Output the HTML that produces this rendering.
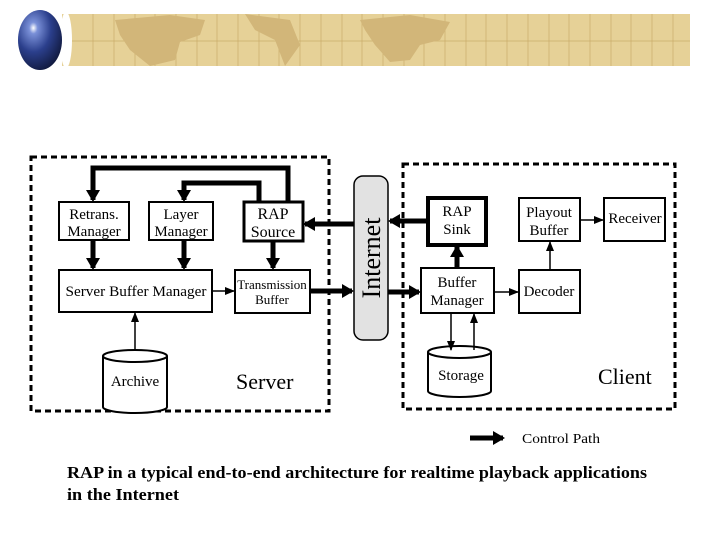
<!DOCTYPE html>
<html><head><style>
html,body{margin:0;padding:0;background:#fff;}
svg{display:block;}
text{font-family:"Liberation Serif",serif;}
</style></head><body>
<svg width="720" height="540" viewBox="0 0 720 540" xmlns="http://www.w3.org/2000/svg">
<defs>
<radialGradient id="g" cx="0.35" cy="0.3" r="0.8">
<stop offset="0" stop-color="#ffffff"/><stop offset="0.12" stop-color="#7a90d8"/><stop offset="0.5" stop-color="#2b3f8c"/><stop offset="1" stop-color="#0d1433"/></radialGradient>
<marker id="a" markerWidth="12" markerHeight="14" refX="10" refY="7" orient="auto" markerUnits="userSpaceOnUse"><path d="M0,0L12,7L0,14z" fill="#000"/></marker>
<marker id="t" markerWidth="10" markerHeight="8" refX="9" refY="4" orient="auto" markerUnits="userSpaceOnUse"><path d="M0,0L10,4L0,8z" fill="#000"/></marker>
</defs>
<rect x="62" y="14" width="628" height="52" fill="#e6d197"/>
<g stroke="#c9ad6a" stroke-width="0.7">
<line x1="62" y1="41" x2="690" y2="41"/>
<line x1="93" y1="14" x2="93" y2="66"/><line x1="114" y1="14" x2="114" y2="66"/><line x1="135" y1="14" x2="135" y2="66"/><line x1="155" y1="14" x2="155" y2="66"/><line x1="176" y1="14" x2="176" y2="66"/><line x1="197" y1="14" x2="197" y2="66"/><line x1="217" y1="14" x2="217" y2="66"/><line x1="238" y1="14" x2="238" y2="66"/><line x1="259" y1="14" x2="259" y2="66"/><line x1="279" y1="14" x2="279" y2="66"/><line x1="300" y1="14" x2="300" y2="66"/><line x1="321" y1="14" x2="321" y2="66"/><line x1="342" y1="14" x2="342" y2="66"/><line x1="362" y1="14" x2="362" y2="66"/><line x1="383" y1="14" x2="383" y2="66"/><line x1="404" y1="14" x2="404" y2="66"/><line x1="424" y1="14" x2="424" y2="66"/><line x1="445" y1="14" x2="445" y2="66"/><line x1="466" y1="14" x2="466" y2="66"/><line x1="486" y1="14" x2="486" y2="66"/><line x1="507" y1="14" x2="507" y2="66"/><line x1="528" y1="14" x2="528" y2="66"/><line x1="549" y1="14" x2="549" y2="66"/><line x1="569" y1="14" x2="569" y2="66"/><line x1="590" y1="14" x2="590" y2="66"/><line x1="611" y1="14" x2="611" y2="66"/><line x1="631" y1="14" x2="631" y2="66"/><line x1="652" y1="14" x2="652" y2="66"/><line x1="673" y1="14" x2="673" y2="66"/>
</g>
<g fill="#d2b679">
<path d="M115,20 L170,15 L205,20 L200,35 L180,42 L175,60 L150,66 L130,50 L120,35z"/>
<path d="M245,14 L290,20 L300,45 L285,66 L275,40 L255,30z"/>
<path d="M360,20 L410,15 L450,22 L440,40 L420,45 L410,60 L390,62 L375,45 L365,30z"/>
</g>
<ellipse cx="66" cy="40" rx="6" ry="28" fill="#fff"/>
<ellipse cx="40" cy="40" rx="22" ry="30" fill="url(#g)"/>

<rect x="31" y="157" width="298" height="254" fill="none" stroke="#000" stroke-width="3" stroke-dasharray="6,4"/>
<rect x="403" y="164" width="272" height="245" fill="none" stroke="#000" stroke-width="3" stroke-dasharray="6,4"/>
<rect x="354" y="176" width="34" height="164" rx="9" fill="#e2e2e2" stroke="#000" stroke-width="1.5"/>
<text x="0" y="0" font-size="26" text-anchor="middle" transform="translate(380,258) rotate(-90)">Internet</text>

<g fill="#fff" stroke="#000" stroke-width="2">
<rect x="59" y="202" width="70" height="38"/>
<rect x="149" y="202" width="64" height="38"/>
<rect x="244" y="202" width="59" height="39" stroke-width="3"/>
<rect x="59" y="270" width="153" height="42"/>
<rect x="235" y="270" width="75" height="43"/>
<rect x="428" y="198" width="58" height="47" stroke-width="4"/>
<rect x="519" y="198" width="61" height="43"/>
<rect x="604" y="198" width="61" height="43"/>
<rect x="421" y="268" width="73" height="45"/>
<rect x="519" y="270" width="61" height="43"/>
</g>
<g fill="#fff" stroke="#000" stroke-width="2">
<path d="M103,356 L103,407 A32,6 0 0 0 167,407 L167,356"/>
<ellipse cx="135" cy="356" rx="32" ry="6"/>
<path d="M428,352 L428,391 A31.5,6 0 0 0 491,391 L491,352"/>
<ellipse cx="459.5" cy="352" rx="31.5" ry="6"/>
</g>

<g font-size="15" text-anchor="middle">
<text x="94" y="219">Retrans.</text><text x="94" y="236">Manager</text>
<text x="181" y="219">Layer</text><text x="181" y="236">Manager</text>
<text x="273" y="219" font-size="16">RAP</text><text x="273" y="237" font-size="16">Source</text>
<text x="136" y="296" textLength="141" lengthAdjust="spacingAndGlyphs">Server Buffer Manager</text>
<text x="272" y="289" font-size="13">Transmission</text><text x="272" y="304" font-size="13">Buffer</text>
<text x="135" y="386">Archive</text>
<text x="457" y="216">RAP</text><text x="457" y="234">Sink</text>
<text x="549" y="217">Playout</text><text x="549" y="235">Buffer</text>
<text x="635" y="223">Receiver</text>
<text x="457" y="287">Buffer</text><text x="457" y="305">Manager</text>
<text x="549" y="296">Decoder</text>
<text x="461" y="380">Storage</text>
</g>
<text x="236" y="389" font-size="22">Server</text>
<text x="598" y="384" font-size="22">Client</text>

<g stroke="#000" stroke-width="5" fill="none">
<path d="M288,202 L288,168 L93,168 L93,200" marker-end="url(#a)"/>
<path d="M259,202 L259,183 L184,183 L184,200" marker-end="url(#a)"/>
<line x1="93" y1="240" x2="93" y2="268" marker-end="url(#a)"/>
<line x1="184" y1="240" x2="184" y2="268" marker-end="url(#a)"/>
<line x1="273" y1="241" x2="273" y2="268" marker-end="url(#a)"/>
<line x1="310" y1="291" x2="352" y2="291" marker-end="url(#a)"/>
<line x1="354" y1="224" x2="305" y2="224" marker-end="url(#a)"/>
<line x1="428" y1="221" x2="390" y2="221" marker-end="url(#a)"/>
<line x1="388" y1="292" x2="419" y2="292" marker-end="url(#a)"/>
<line x1="457" y1="268" x2="457" y2="247" marker-end="url(#a)"/>
<line x1="470" y1="438" x2="503" y2="438" marker-end="url(#a)"/>
</g>
<g stroke="#000" stroke-width="1.5" fill="none">
<line x1="212" y1="291" x2="234" y2="291" marker-end="url(#t)"/>
<line x1="135" y1="350" x2="135" y2="313" marker-end="url(#t)"/>
<line x1="494" y1="292" x2="518" y2="292" marker-end="url(#t)"/>
<line x1="550" y1="270" x2="550" y2="242" marker-end="url(#t)"/>
<line x1="580" y1="220" x2="603" y2="220" marker-end="url(#t)"/>
<line x1="451" y1="313" x2="451" y2="350" marker-end="url(#t)"/>
<line x1="474" y1="350" x2="474" y2="314" marker-end="url(#t)"/>
</g>
<text x="522" y="443" font-size="14" textLength="78" lengthAdjust="spacingAndGlyphs">Control Path</text>

<g font-size="17" font-weight="bold">
<text x="67" y="478" textLength="580" lengthAdjust="spacingAndGlyphs">RAP in a typical end-to-end architecture for realtime playback applications</text>
<text x="67" y="500" textLength="112" lengthAdjust="spacingAndGlyphs">in the Internet</text>
</g>
</svg>
</body></html>
